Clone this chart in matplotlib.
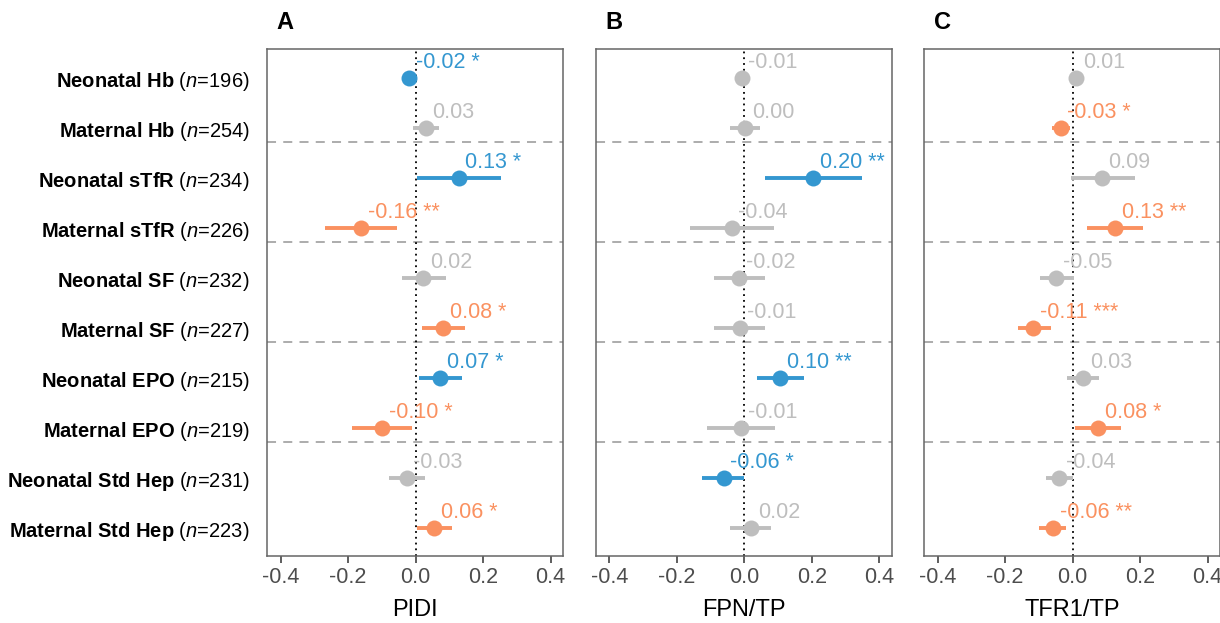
import numpy as np
import matplotlib
matplotlib.use("Agg")
import matplotlib.pyplot as plt

plt.rcParams['font.family'] = ['Liberation Sans', 'DejaVu Sans']
plt.rcParams['mathtext.fontset'] = 'custom'
plt.rcParams['mathtext.rm'] = 'Liberation Sans'
plt.rcParams['mathtext.bf'] = 'Liberation Sans:bold'
plt.rcParams['mathtext.it'] = 'Liberation Sans:italic'

# outcomes, top to bottom
names = ["Neonatal Hb", "Maternal Hb", "Neonatal sTfR", "Maternal sTfR",
         "Neonatal SF", "Maternal SF", "Neonatal EPO", "Maternal EPO",
         "Neonatal Std Hep", "Maternal Std Hep"]
n_obs = [196, 254, 234, 226, 232, 227, 215, 219, 231, 223]
neonatal = [True, False] * 5

# panel A: PIDI
est_A = [-0.020, 0.030, 0.128, -0.162, 0.023, 0.082, 0.073, -0.099, -0.026, 0.056]
lo_A = [-0.030, -0.007, 0.003, -0.267, -0.041, 0.020, 0.011, -0.188, -0.079, 0.003]
hi_A = [-0.010, 0.070, 0.252, -0.056, 0.089, 0.148, 0.137, -0.010, 0.027, 0.108]
lab_A = ["-0.02", "0.03", "0.13", "-0.16", "0.02", "0.08", "0.07", "-0.10", "-0.03", "0.06"]
sig_A = ["*", "", "*", "**", "", "*", "*", "*", "", "*"]

# panel B: FPN/TP
est_B = [-0.008, 0.002, 0.205, -0.037, -0.016, -0.013, 0.107, -0.010, -0.061, 0.020]
lo_B = [-0.015, -0.041, 0.061, -0.161, -0.089, -0.089, 0.037, -0.111, -0.125, -0.042]
hi_B = [0.000, 0.047, 0.348, 0.089, 0.062, 0.063, 0.176, 0.092, 0.000, 0.080]
lab_B = ["-0.01", "0.00", "0.20", "-0.04", "-0.02", "-0.01", "0.10", "-0.01", "-0.06", "0.02"]
sig_B = ["", "", "**", "", "", "", "**", "", "*", ""]

# panel C: TFR1/TP
est_C = [0.010, -0.035, 0.086, 0.126, -0.048, -0.116, 0.031, 0.076, -0.040, -0.058]
lo_C = [0.003, -0.061, -0.005, 0.044, -0.096, -0.162, -0.015, 0.008, -0.080, -0.098]
hi_C = [0.017, -0.007, 0.184, 0.208, 0.003, -0.064, 0.079, 0.143, 0.001, -0.019]
lab_C = ["0.01", "-0.03", "0.09", "0.13", "-0.05", "-0.11", "0.03", "0.08", "-0.04", "-0.06"]
sig_C = ["", "*", "", "**", "", "***", "", "*", "", "**"]

panels = [("A", "PIDI", est_A, lo_A, hi_A, lab_A, sig_A),
          ("B", "FPN/TP", est_B, lo_B, hi_B, lab_B, sig_B),
          ("C", "TFR1/TP", est_C, lo_C, hi_C, lab_C, sig_C)]

blue = "#3497D0"
orange = "#FA9160"
grey = "#BEBEBE"

fig = plt.figure(figsize=(12.2, 6.23), dpi=100)
lefts = [267 / 1220, 595.7 / 1220, 924 / 1220]
width = 296 / 1220
bottom = 1 - 555.7 / 623
height = (555.7 - 49) / 623

rows = np.arange(len(names))
for k, (tag, xlab, est, lo, hi, lab, sig) in enumerate(panels):
    ax = fig.add_axes([lefts[k], bottom, width, height])
    for sep in [1.28, 3.28, 5.28, 7.28]:
        ax.axhline(sep, color="#A6A6A6", lw=1.3, ls=(0, (5, 4)), zorder=1)
    ax.axvline(0, color="black", lw=1.3, ls=(0, (1, 2.2)), zorder=2)
    for i in rows:
        if sig[i] == "":
            col = grey
        elif neonatal[i]:
            col = blue
        else:
            col = orange
        ax.hlines(i, lo[i], hi[i], color=col, lw=2.8, zorder=3)
        ax.plot(est[i], i, "o", color=col, ms=11.5, mec="none", zorder=4)
        txt = lab[i] + (" " + sig[i] if sig[i] else "")
        ax.text(est[i] + 0.02, i - 0.31, txt, color=col, fontsize=15.5,
                ha="left", va="center", zorder=5)
    ax.set_xlim(-0.44, 0.437)
    ax.set_ylim(9.55, -0.58)
    ax.set_xticks([-0.4, -0.2, 0.0, 0.2, 0.4])
    ax.set_xticklabels(["-0.4", "-0.2", "0.0", "0.2", "0.4"])
    ax.tick_params(axis="x", length=5, width=1.1, color="#333333",
                   labelcolor="#4D4D4D", labelsize=15.5, pad=3)
    ax.set_xlabel(xlab, fontsize=17, color="black", labelpad=8)
    for sp in ax.spines.values():
        sp.set_color("#666666")
        sp.set_linewidth(1.1)
    if k == 0:
        ax.set_yticks(rows)
        ax.set_yticklabels([r"$\mathbf{%s}$ ($\mathit{n}$=%d)" % (nm.replace(" ", r"\ "), n)
                            for nm, n in zip(names, n_obs)])
        ax.tick_params(axis="y", length=0, labelsize=14.5, labelcolor="black", pad=12.3)
    else:
        ax.set_yticks([])
    ax.text(0.033, 1.03, tag, transform=ax.transAxes, fontsize=17,
            fontweight="bold", ha="left", va="bottom")

fig.savefig("out.png", dpi=100)
